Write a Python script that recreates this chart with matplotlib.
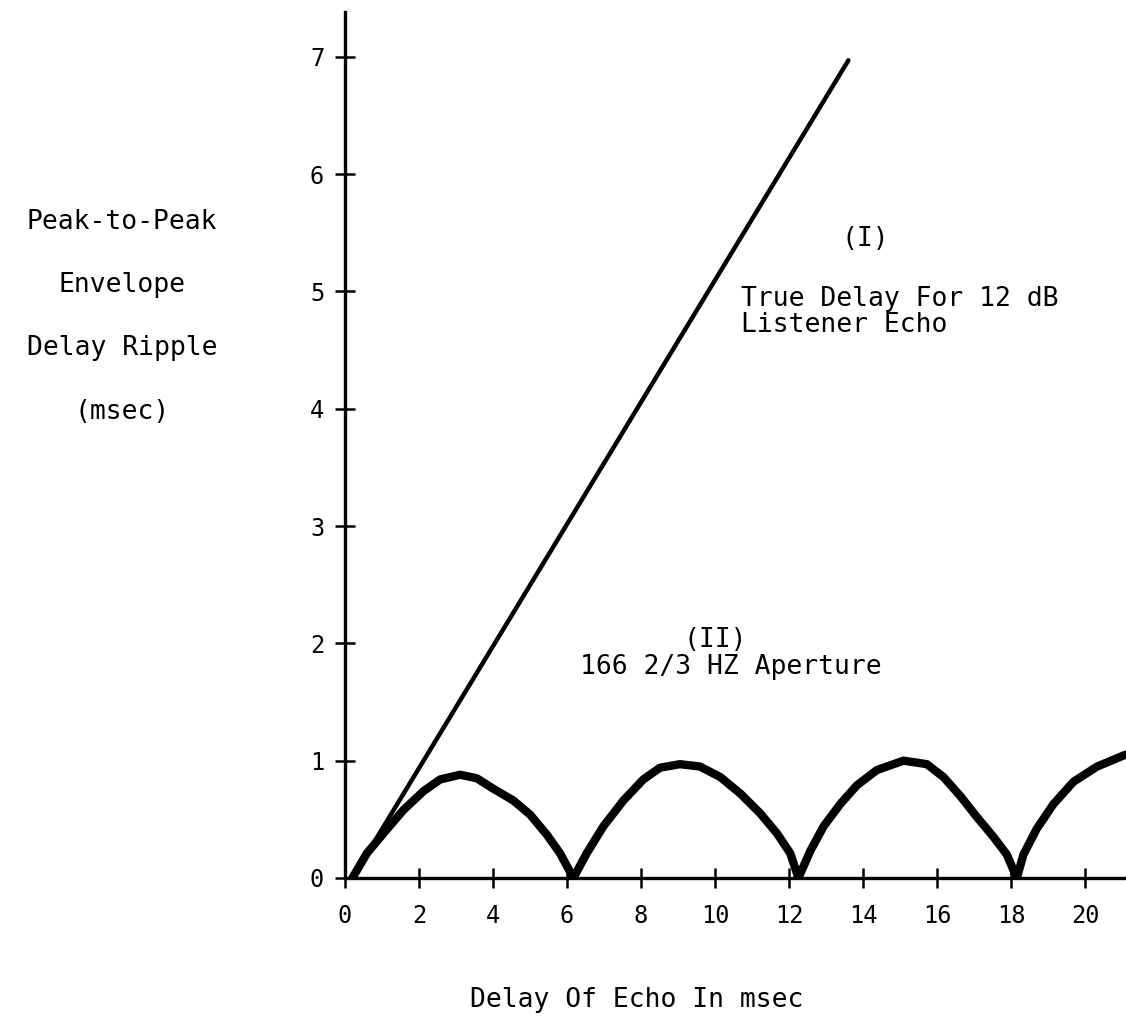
import matplotlib
matplotlib.use("Agg")
import matplotlib.pyplot as plt

# ---- data ----
line_I_x = [0.2, 13.6]
line_I_y = [0.0, 6.97]

arch1_x = [0.2, 0.59, 1.04, 1.58, 2.12, 2.57, 3.11, 3.56, 4.01, 4.55, 5.0, 5.45, 5.81, 6.17]
arch1_y = [0.0, 0.21, 0.38, 0.58, 0.74, 0.84, 0.88, 0.85, 0.76, 0.66, 0.54, 0.37, 0.21, 0.0]

arch2_x = [6.17, 6.53, 6.98, 7.52, 8.06, 8.51, 9.05, 9.59, 10.14, 10.68, 11.22, 11.67, 12.03, 12.25]
arch2_y = [0.0, 0.21, 0.44, 0.66, 0.84, 0.94, 0.97, 0.95, 0.86, 0.72, 0.55, 0.38, 0.21, 0.0]

arch3_x = [12.25, 12.57, 12.93, 13.38, 13.83, 14.37, 15.09, 15.72, 16.17, 16.62, 17.07, 17.52, 17.88, 18.15]
arch3_y = [0.0, 0.23, 0.44, 0.63, 0.79, 0.92, 1.0, 0.97, 0.86, 0.70, 0.52, 0.35, 0.20, 0.0]

arch4_x = [18.15, 18.33, 18.69, 19.14, 19.68, 20.32, 21.08]
arch4_y = [0.0, 0.20, 0.42, 0.63, 0.82, 0.95, 1.05]

x_ticks = [0, 2, 4, 6, 8, 10, 12, 14, 16, 18, 20]
y_ticks = [0, 1, 2, 3, 4, 5, 6, 7]

ylabel_lines = ["Peak-to-Peak", "Envelope", "Delay Ripple", "(msec)"]
label_I = "(I)"
text_I = "True Delay For 12 dB\nListener Echo"
label_II = "(II)"
text_II = "166 2/3 HZ Aperture"
xlabel = "Delay Of Echo In msec"

FONT = "DejaVu Sans Mono"
FS = 19

# ---- figure ----
fig = plt.figure(figsize=(11.26, 10.24), dpi=100)
ax = fig.add_axes([0.3064, 0.1426, 0.6936, 0.8455])
ax.set_xlim(0, 21.1)
ax.set_ylim(0, 7.38)

for s in ("top", "right"):
    ax.spines[s].set_visible(False)
for s in ("left", "bottom"):
    ax.spines[s].set_linewidth(2.4)
    ax.spines[s].set_color("black")

ax.plot(line_I_x, line_I_y, color="black", lw=3.2, solid_capstyle="round")
for xs, ys in ((arch1_x, arch1_y), (arch2_x, arch2_y), (arch3_x, arch3_y), (arch4_x, arch4_y)):
    ax.plot(xs, ys, color="black", lw=6.0, solid_capstyle="round", solid_joinstyle="round")

ax.set_xticks(x_ticks)
ax.set_xticklabels([str(v) for v in x_ticks])
ax.set_yticks(y_ticks)
ax.set_yticklabels([str(v) for v in y_ticks])
ax.tick_params(axis="both", direction="inout", length=14, width=1.8, labelsize=17)
ax.tick_params(axis="x", pad=12)
ax.tick_params(axis="y", pad=8)
for lab in ax.get_xticklabels() + ax.get_yticklabels():
    lab.set_family(FONT)

# y-axis label lines
ys_fig = [222, 285, 348, 412]
for t, ypx in zip(ylabel_lines, ys_fig):
    fig.text(122 / 1126, 1 - ypx / 1024, t, ha="center", va="center",
             fontsize=FS, family=FONT)

ax.text(14.05, 5.45, label_I, ha="center", va="center", fontsize=FS, family=FONT)
ax.text(10.7, 5.05, text_I, ha="left", va="top", fontsize=FS, family=FONT, linespacing=1.0)
ax.text(10.0, 2.03, label_II, ha="center", va="center", fontsize=FS, family=FONT)
ax.text(6.35, 1.80, text_II, ha="left", va="center", fontsize=FS, family=FONT)

fig.text(637 / 1126, 1 - 1000 / 1024, xlabel, ha="center", va="center",
         fontsize=FS, family=FONT)

fig.savefig("out.png", dpi=100)
